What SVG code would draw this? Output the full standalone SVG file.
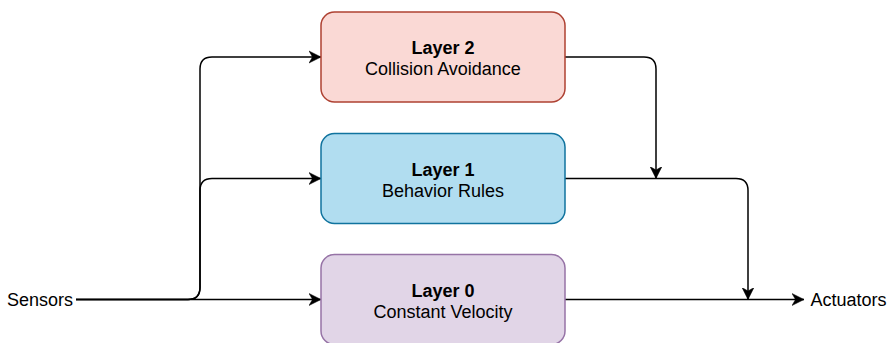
<svg xmlns="http://www.w3.org/2000/svg" width="888" height="343" viewBox="0 0 888 343">
  <style>
    .box { stroke-width: 1.5; }
    .edge { fill: none; stroke: #000; stroke-width: 1.5; }
    text { font-family: "Liberation Sans", Arial, Helvetica, sans-serif; font-size: 18px; fill: #000; }
    .title { font-weight: bold; text-anchor: middle; }
    .sub { text-anchor: middle; }
  </style>
  <defs>
    <marker id="arrow" markerUnits="userSpaceOnUse" markerWidth="14" markerHeight="14" viewBox="0 0 14 14" refX="12" refY="7" orient="auto">
      <path d="M0,1 L12,7 L0,13 L3.5,7 Z" fill="#000" stroke="#000" stroke-width="0.5"/>
    </marker>
  </defs>

  <rect width="888" height="343" fill="#fff"/>

  <!-- connectors -->
  <g id="connectors">
    <path class="edge" d="M76,299.5 L188,299.5 Q200,299.5 200,287.5 L200,69 Q200,57 212,57 L321,57" marker-end="url(#arrow)"/>
    <path class="edge" d="M76,299.5 L188,299.5 Q200,299.5 200,287.5 L200,190.5 Q200,178.5 212,178.5 L321,178.5" marker-end="url(#arrow)"/>
    <path class="edge" d="M76,299.5 L321,299.5" marker-end="url(#arrow)"/>
    <path class="edge" d="M565,57 L644,57 Q656,57 656,69 L656,178.5" marker-end="url(#arrow)"/>
    <path class="edge" d="M565,178.5 L736,178.5 Q748,178.5 748,190.5 L748,299.5" marker-end="url(#arrow)"/>
    <path class="edge" d="M565,299.5 L804,299.5" marker-end="url(#arrow)"/>
  </g>

  <!-- layer nodes -->
  <g id="layer2">
    <rect class="box" x="321" y="12" width="244" height="90" rx="13.5" ry="13.5" fill="#fad9d5" stroke="#ae4132"/>
    <text class="title" x="443" y="54">Layer 2</text>
    <text class="sub" x="443" y="75">Collision Avoidance</text>
  </g>
  <g id="layer1">
    <rect class="box" x="321" y="133.5" width="244" height="90" rx="13.5" ry="13.5" fill="#b1ddf0" stroke="#10739e"/>
    <text class="title" x="443" y="175.5">Layer 1</text>
    <text class="sub" x="443" y="196.5">Behavior Rules</text>
  </g>
  <g id="layer0">
    <rect class="box" x="321" y="254.5" width="244" height="90" rx="13.5" ry="13.5" fill="#e1d5e7" stroke="#9673a6"/>
    <text class="title" x="443" y="296.5">Layer 0</text>
    <text class="sub" x="443" y="317.5">Constant Velocity</text>
  </g>

  <!-- endpoint labels -->
  <g id="sensors">
    <text x="7" y="305.8">Sensors</text>
  </g>
  <g id="actuators">
    <text x="810.5" y="305.8">Actuators</text>
  </g>
</svg>
